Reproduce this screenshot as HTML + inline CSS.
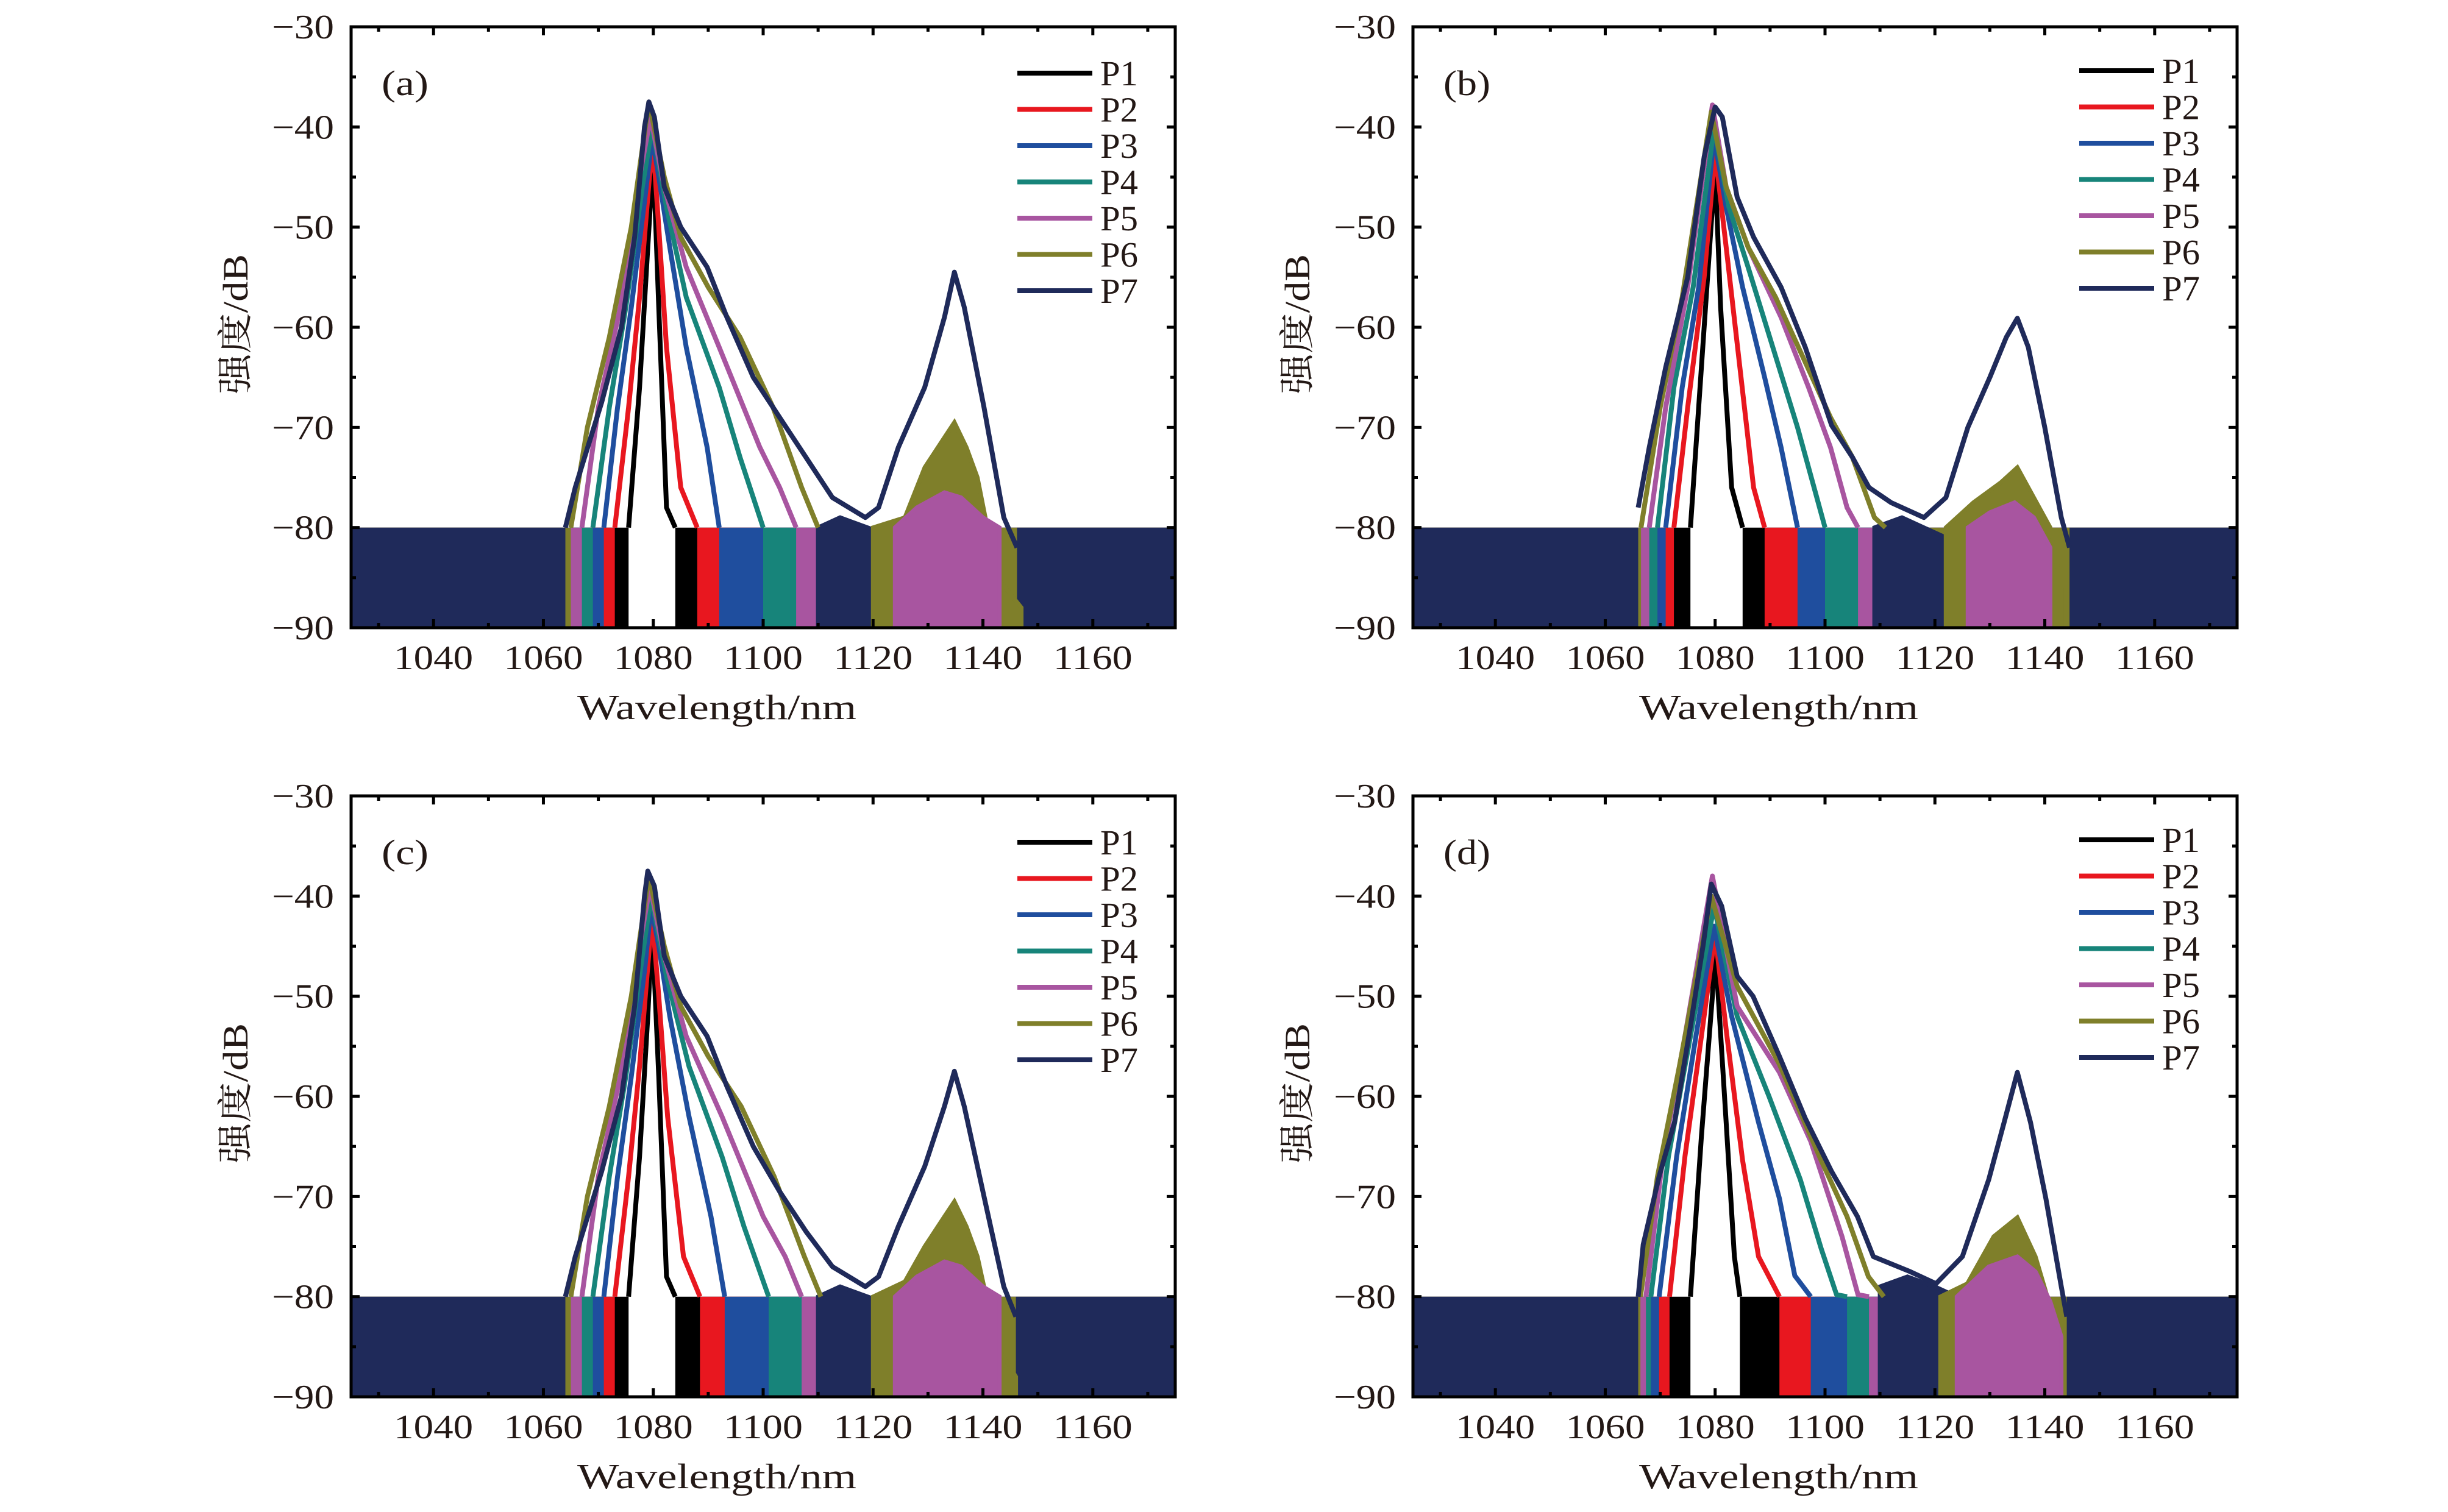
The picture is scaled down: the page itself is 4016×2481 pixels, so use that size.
<!DOCTYPE html>
<html><head><meta charset="utf-8">
<style>
html,body{margin:0;padding:0;background:#fff;}
svg{display:block;}
text{font-family:"Liberation Serif","Noto Serif CJK SC",serif;fill:#231815;}
</style></head>
<body>
<svg id="fig" width="4016" height="2481" viewBox="0 0 4016 2481" xmlns="http://www.w3.org/2000/svg"></svg>
<script>
// ---- data (wavelength nm, intensity dB) ----
const seriesNames = ["P1","P2","P3","P4","P5","P6","P7"];
const seriesColors = ["#000000","#e8171f","#1f4e9e","#17847a","#a855a0","#7f7f2a","#1f2a5a"];
const xTicks = [1040,1060,1080,1100,1120,1140,1160];
const yTicks = [-30,-40,-50,-60,-70,-80,-90];
const panelLabels = ["(a)","(b)","(c)","(d)"];

// panel (a)
const a_P1 = [[1075.5,-80],[1077.5,-66],[1079,-52],[1080,-43],[1081,-58],[1082.4,-78],[1084,-80]];
const a_P2 = [[1073,-80],[1075.5,-68],[1077.5,-57],[1079.3,-45],[1080,-42],[1081,-50],[1082.4,-62],[1085,-76],[1088,-80]];
const a_P3 = [[1071,-80],[1073.5,-68],[1076,-58],[1078.5,-47],[1079.8,-41],[1081,-45],[1083,-52],[1086,-62],[1089.8,-72],[1092,-80]];
const a_P4 = [[1069,-80],[1072,-68],[1075,-58],[1078,-46],[1079.8,-40],[1082.4,-48],[1086,-57],[1092,-66],[1095.8,-73],[1100,-80]];
const a_P5 = [[1067,-80],[1070,-68],[1074,-58],[1077.5,-45],[1079.5,-39],[1082,-46],[1086,-54],[1092,-62],[1099.4,-72],[1103,-76],[1106,-80]];
const a_P5b = [[1124,-80],[1128,-78],[1133,-76.5],[1136,-77],[1140,-79],[1143,-80]];
const a_P6 = [[1065,-80],[1068,-70],[1072,-61],[1076,-50],[1079.2,-37.5],[1082,-45],[1085,-51],[1090,-56],[1095.8,-61],[1101.8,-68],[1107,-76],[1110,-80]];
const a_P6b = [[1120,-80],[1125.8,-79],[1129.4,-74],[1133,-71],[1134.8,-69.5],[1137,-72],[1139,-75],[1142.6,-85],[1147,-88]];
const a_P7 = [[1064,-80],[1065.8,-76],[1070.6,-67.5],[1074.2,-60],[1076.6,-51],[1078.4,-40],[1079.2,-37.5],[1080.2,-39],[1082,-46],[1085,-50],[1089.8,-54],[1093.4,-59],[1098.2,-65],[1103,-69],[1107.8,-73],[1112.6,-77],[1118.6,-79],[1121,-78],[1124.6,-72],[1129.4,-66],[1133,-59],[1134.8,-54.5],[1136.6,-58],[1140.2,-68],[1143.8,-79],[1146.2,-82]];
const a_P7dip = [[1110,-80],[1114,-79],[1119,-80],[1124,-81]];

// panel (b)
const b_P1 = [[1075.5,-80],[1077.5,-64],[1079,-52],[1080,-44],[1081,-58],[1083,-76],[1085,-80]];
const b_P2 = [[1072.5,-80],[1075,-68],[1078,-55],[1080,-42.5],[1082,-52],[1084.5,-64],[1087,-76],[1089,-80]];
const b_P3 = [[1071,-80],[1074,-66],[1077,-56],[1079.8,-41],[1082,-48],[1085,-56],[1089,-65],[1092,-72],[1095,-80]];
const b_P4 = [[1069.5,-80],[1072.5,-66],[1076,-56],[1079.8,-40],[1082.5,-48],[1086,-54],[1090.5,-62],[1095,-70],[1098,-76],[1100,-80]];
const b_P5 = [[1068,-80],[1071,-68],[1075,-56],[1079.5,-37.8],[1082,-46],[1086,-52],[1092,-59],[1097,-66],[1101,-72],[1104,-78],[1106,-80]];
const b_P5b = [[1126,-80],[1130,-78.5],[1134.5,-77.5],[1138,-79],[1141,-82]];
const b_P6 = [[1066.5,-80],[1070,-68],[1074,-57],[1079.3,-38.5],[1082,-46],[1086,-52],[1091,-57],[1096,-63],[1101,-69],[1105,-73],[1109,-79],[1111,-80]];
const b_P6b = [[1122,-80],[1127,-77.5],[1132,-75.5],[1135,-74],[1138,-77],[1141,-80],[1143,-86]];
const b_P7 = [[1066,-78],[1068,-72],[1071,-64],[1075,-55],[1078,-43],[1080,-38],[1081.3,-39],[1084,-47],[1087,-51],[1092,-56],[1096.4,-62],[1101.2,-69.8],[1105,-73],[1108,-76],[1112,-77.5],[1118,-79],[1122,-77],[1126,-70],[1130,-65],[1133,-61],[1135,-59.1],[1137,-62],[1140,-70],[1143,-79],[1144.5,-82]];
const b_P7dip = [[1109,-80],[1114,-79],[1118,-80],[1122,-81]];

// panel (c)
const c_P1 = [[1075.5,-80],[1077.5,-66],[1079,-52],[1079.8,-43],[1081,-58],[1082.4,-78],[1084,-80]];
const c_P2 = [[1073,-80],[1075.5,-68],[1077.5,-57],[1079.3,-45],[1079.8,-42],[1081,-50],[1082.6,-62],[1085.5,-76],[1088.5,-80]];
const c_P3 = [[1071,-80],[1073.5,-68],[1076,-58],[1078.5,-47],[1079.6,-41],[1081,-45],[1083,-52],[1086.5,-62],[1090.5,-72],[1093,-80]];
const c_P4 = [[1069,-80],[1072,-68],[1075,-58],[1078,-46],[1079.6,-40],[1082.4,-48],[1086.5,-57],[1092.5,-66],[1096.5,-73],[1101,-80]];
const c_P5 = [[1067,-80],[1070,-68],[1074,-58],[1077.5,-45],[1079.4,-39],[1082,-46],[1086,-54],[1092.5,-62],[1100,-72],[1104,-76],[1107,-80]];
const c_P5b = [[1124,-80],[1128,-78],[1133,-76.5],[1136,-77],[1140,-79],[1143,-80]];
const c_P6 = [[1065,-80],[1068,-70],[1072,-61],[1076,-50],[1079.2,-38],[1082,-45],[1085,-51],[1090,-56],[1096,-61],[1102,-68],[1107.5,-76],[1110.5,-80]];
const c_P6b = [[1120,-80],[1125.8,-78.5],[1129.4,-75],[1133,-72],[1134.8,-70.5],[1137,-73],[1139,-76],[1142.6,-85],[1146,-88]];
const c_P7 = [[1064,-80],[1065.8,-76],[1070.6,-67.5],[1074.2,-60],[1076.6,-51],[1078.4,-40],[1079,-37.5],[1080.2,-39],[1082,-46],[1085,-50],[1089.8,-54],[1093.4,-59],[1098.2,-65],[1103,-69.5],[1107.8,-73.5],[1112.6,-77],[1118.6,-79],[1121,-78],[1124.6,-73],[1129.4,-67],[1133,-61],[1134.8,-57.5],[1136.6,-61],[1140.2,-70],[1143.8,-79],[1146,-82]];
const c_P7dip = [[1110,-80],[1114,-79],[1119,-80],[1124,-81]];

// panel (d)
const d_P1 = [[1075.5,-80],[1077.5,-64],[1079.5,-50],[1080,-45],[1082,-62.6],[1083.5,-76],[1084.5,-80]];
const d_P2 = [[1071.7,-80],[1074.5,-66],[1077.5,-54],[1080,-43.8],[1082.1,-53.8],[1085,-66.4],[1087.9,-76],[1091.7,-80]];
const d_P3 = [[1069.8,-80],[1073,-66],[1076.5,-54],[1079.8,-43],[1083,-52],[1087.9,-62.6],[1091.7,-70.2],[1094.5,-77.9],[1097.4,-80]];
const d_P4 = [[1068.3,-80],[1071.5,-66],[1075.5,-54],[1079.8,-41],[1084,-52],[1089.8,-60],[1095.5,-68.3],[1099.3,-75.2],[1102.1,-79.8],[1104,-80]];
const d_P5 = [[1067.4,-80],[1070.5,-66],[1074.5,-54],[1079.5,-38],[1084,-51],[1091.7,-57.6],[1097.4,-64.5],[1103.1,-74],[1106,-79.8],[1108,-80]];
const d_P5b = [[1124,-80],[1129.8,-77],[1135,-76],[1138.3,-77.5],[1141,-80.5],[1143,-84]];
const d_P6 = [[1066.4,-80],[1069.5,-68],[1073.5,-57],[1079.3,-40],[1084,-49],[1091.7,-56.8],[1099.3,-66.4],[1104,-72],[1107.9,-78],[1110.7,-80]];
const d_P6b = [[1121,-80],[1125.9,-78.7],[1130.7,-74],[1135,-72.1],[1138.3,-76],[1141,-81],[1143.6,-87]];
const d_P7 = [[1066,-80],[1066.9,-74.8],[1069.8,-68],[1072.6,-62.6],[1075.5,-53],[1077.9,-44.6],[1079.3,-38.8],[1081.2,-41],[1084,-48],[1086.9,-50],[1091.7,-56],[1096.4,-62.2],[1101.2,-67.5],[1105.9,-72],[1108.8,-76],[1115.5,-77.5],[1120.2,-78.7],[1125,-76],[1129.8,-68.3],[1132.6,-62.6],[1135,-57.6],[1137.4,-62.6],[1140.2,-70.2],[1143,-79],[1144,-82]];
const d_P7dip = [[1110,-79],[1115,-78],[1120,-79],[1124,-80]];

const panelMain = [
  [a_P1,a_P2,a_P3,a_P4,a_P5,a_P6,a_P7],
  [b_P1,b_P2,b_P3,b_P4,b_P5,b_P6,b_P7],
  [c_P1,c_P2,c_P3,c_P4,c_P5,c_P6,c_P7],
  [d_P1,d_P2,d_P3,d_P4,d_P5,d_P6,d_P7]
];
const panelBumps = [
  {5:a_P6b,4:a_P5b,6:a_P7dip},{5:b_P6b,4:b_P5b,6:b_P7dip},{5:c_P6b,4:c_P5b,6:c_P7dip},{5:d_P6b,4:d_P5b,6:d_P7dip}
];
const bumpOrder = [6,5,4];
const noiseLevel = -80;

// ---- layout ----
const NS = "http://www.w3.org/2000/svg";
const svg = document.getElementById("fig");
const PW = 1352, PH = 986;
const origins = [[576,44],[2318,44],[576,1306],[2318,1306]];
const XMIN = 1025, XMAX = 1175, YMIN = -90, YMAX = -30;

function mk(tag, attrs, parent){
  const e = document.createElementNS(NS, tag);
  for (const k in attrs) e.setAttribute(k, attrs[k]);
  (parent||svg).appendChild(e);
  return e;
}

origins.forEach((o, pi) => {
  const x0 = o[0], y0 = o[1];
  const sx = v => x0 + (v - XMIN) / (XMAX - XMIN) * PW;
  const sy = v => y0 + (YMAX - v) / (YMAX - YMIN) * PH;
  const g = mk("g", {});
  
  
  const clipId = "clip" + pi;
  const cp = mk("clipPath", {id: clipId}, g);
  mk("rect", {x:x0, y:y0, width:PW, height:PH}, cp);
  const plot = mk("g", {"clip-path": "url(#" + clipId + ")"}, g);
  
  

  const pts = arr => arr.map(p => sx(p[0]).toFixed(1) + "," + sy(p[1]).toFixed(1)).join(" ");

  // pass 1: noise floor fills
  panelMain[pi].forEach((arr, si) => {
    const col = seriesColors[si];
    const first = arr[0][0], last = arr[arr.length-1][0];
    const nl = mk("polygon", {points: pts([[XMIN,YMIN],[XMIN,noiseLevel],[first,noiseLevel],[first,YMIN]]), fill: col}, plot);
    
    
    const nr = mk("polygon", {points: pts([[last,YMIN],[last,noiseLevel],[XMAX,noiseLevel],[XMAX,YMIN]]), fill: col}, plot);
    
    
  });
  // pass 2: secondary filled regions
  bumpOrder.forEach(si => {
    const bump = panelBumps[pi][si];
    if (!bump) return;
    const col = seriesColors[si];
    const bp = mk("polygon", {points: pts([[bump[0][0],YMIN]].concat(bump).concat([[bump[bump.length-1][0],YMIN]])), fill: col, stroke: col, "stroke-width": 7}, plot);
    
    
  });
  // pass 3: spectrum lines
  panelMain[pi].forEach((arr, si) => {
    const ln = mk("polyline", {points: pts(arr), fill: "none", stroke: seriesColors[si], "stroke-width": 8, "stroke-linejoin": "round"}, plot);
    
    
  });

  // frame
  const fr = mk("rect", {x:x0, y:y0, width:PW, height:PH, fill:"none", stroke:"#000", "stroke-width":5}, g);
  
  

  // x ticks
  for (let v = 1030; v <= 1170; v += 10) {
    const major = v % 20 === 0;
    const L = major ? 14 : 8;
    mk("line", {x1:sx(v), x2:sx(v), y1:y0+PH, y2:y0+PH-L, stroke:"#000", "stroke-width":5}, g);
    mk("line", {x1:sx(v), x2:sx(v), y1:y0, y2:y0+L, stroke:"#000", "stroke-width":5}, g);
  }
  xTicks.forEach(v => {
    const t = mk("text", {x:sx(v)-65, y:y0+PH+68, "font-size":56, textLength:130, lengthAdjust:"spacingAndGlyphs"}, g);
    t.textContent = v;
    
    
  });
  // y ticks
  for (let v = -85; v <= -35; v += 5) {
    const major = v % 10 === 0;
    const L = major ? 14 : 8;
    mk("line", {x1:x0, x2:x0+L, y1:sy(v), y2:sy(v), stroke:"#000", "stroke-width":5}, g);
    mk("line", {x1:x0+PW, x2:x0+PW-L, y1:sy(v), y2:sy(v), stroke:"#000", "stroke-width":5}, g);
  }
  yTicks.forEach(v => {
    const t = mk("text", {x:x0-28-102, y:sy(v)+19, "font-size":56, textLength:102, lengthAdjust:"spacingAndGlyphs"}, g);
    t.textContent = "\u2212" + Math.abs(v);
    
    
  });
  // axis titles
  const xt = mk("text", {x:x0+371, y:y0+PH+150, "font-size":58, textLength:458, lengthAdjust:"spacingAndGlyphs"}, g);
  xt.textContent = "Wavelength/nm";
  
  
  const yc = y0 + PH/2 - 5;
  const yx = x0 - 190;
  const yt = mk("text", {x:yx-115, y:yc+20, "font-size":58, textLength:230, lengthAdjust:"spacingAndGlyphs", transform:"rotate(-90 " + yx + " " + yc + ")"}, g);
  yt.textContent = "强度/dB";
  
  
  // panel label
  const pl = mk("text", {x:x0+50, y:y0+112, "font-size":58, textLength:77, lengthAdjust:"spacingAndGlyphs"}, g);
  pl.textContent = panelLabels[pi];
  
  
  // legend
  const lg = mk("g", {}, g);
  
  
  const ly0 = y0 + (pi % 2 === 0 ? 76 : 72);
  seriesNames.forEach((n, si) => {
    const yy = ly0 + si * 59.5;
    const e = mk("g", {}, lg);
    
    
    mk("line", {x1:x0+1093, x2:x0+1216, y1:yy, y2:yy, stroke:seriesColors[si], "stroke-width":8}, e);
    const t = mk("text", {x:x0+1229, y:yy+20, "font-size":58, textLength:62, lengthAdjust:"spacingAndGlyphs"}, e);
    t.textContent = n;
  });
});
</script>
</body></html>
